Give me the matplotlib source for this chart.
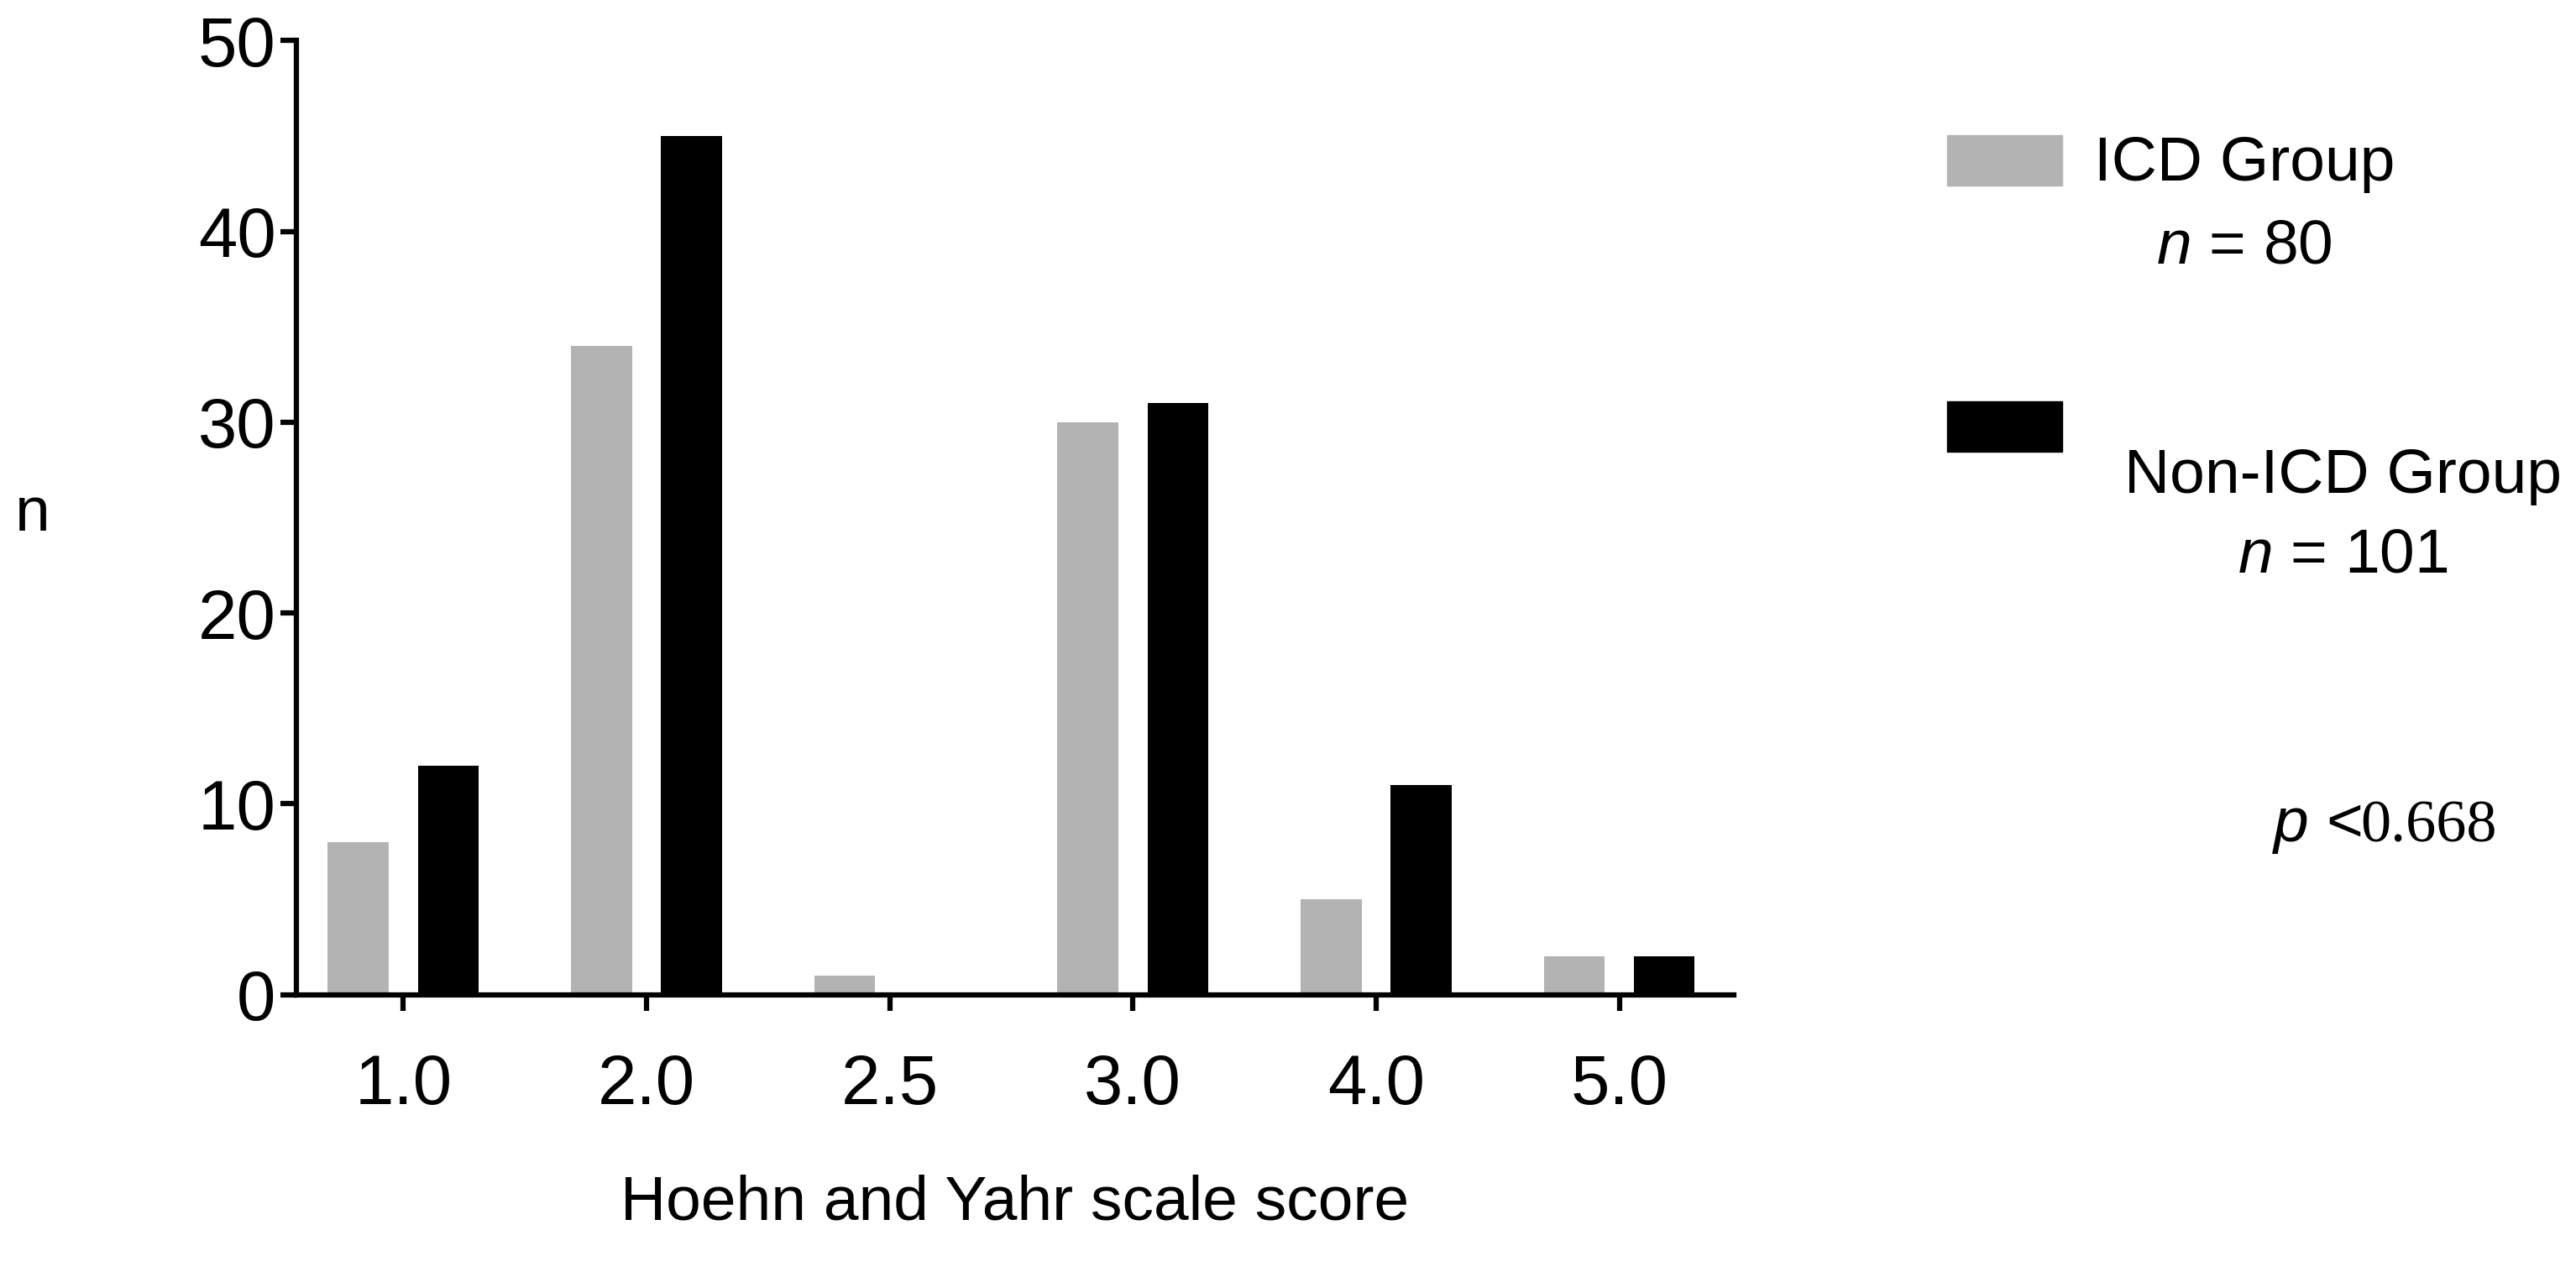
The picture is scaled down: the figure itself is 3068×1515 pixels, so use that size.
import matplotlib
matplotlib.use("Agg")
import matplotlib.pyplot as plt
from matplotlib.patches import Rectangle
import numpy as np

categories = ["1.0", "2.0", "2.5", "3.0", "4.0", "5.0"]
icd = [8, 34, 1, 30, 5, 2]
non_icd = [12, 45, 0, 31, 11, 2]

plt.rcParams['font.family'] = ['Liberation Sans', 'DejaVu Sans']
plt.rcParams['mathtext.fontset'] = 'custom'
plt.rcParams['mathtext.it'] = 'Liberation Sans:italic'
fig = plt.figure(figsize=(30.68, 15.15), dpi=100)
ax = fig.add_axes([0.115, 0.218, 0.558, 0.75])
x = np.arange(len(categories))
ax.bar(x - 0.185, icd, width=0.25, color="#b3b3b3")
ax.bar(x + 0.185, non_icd, width=0.25, color="black")
ax.set_xlim(-0.44, 5.47)
ax.set_ylim(0, 50)
ax.set_yticks([0, 10, 20, 30, 40, 50])
ax.set_xticks(x)
ax.set_xticklabels(categories)
for s in ["top", "right"]:
    ax.spines[s].set_visible(False)
for s in ["left", "bottom"]:
    ax.spines[s].set_linewidth(4.5)
ax.tick_params(axis="both", width=4.5, length=14, labelsize=60, direction="out")
ax.tick_params(axis="x", pad=36)
ax.set_xlabel("Hoehn and Yahr scale score", fontsize=54, labelpad=48)

W, H = 1568, 774
def fx(v): return v / W
def fy(v): return 1 - v / H
fig.text(fx(20), fy(313), "n", fontsize=54, ha="center", va="center")
fig.patches.append(Rectangle((fx(1185), fy(113)), fx(70), 31 / H, color="#b3b3b3", transform=fig.transFigure))
fig.patches.append(Rectangle((fx(1185), fy(275)), fx(70), 31 / H, color="black", transform=fig.transFigure))
fig.text(fx(1366), fy(100), "ICD Group", fontsize=54, ha="center", va="center")
fig.text(fx(1366), fy(150), "$n$ = 80", fontsize=54, ha="center", va="center")
fig.text(fx(1426), fy(290), "Non-ICD Group", fontsize=54, ha="center", va="center")
fig.text(fx(1426), fy(338), "$n$ = 101", fontsize=54, ha="center", va="center")
fig.text(fx(1383), fy(503), "$p$ <", fontsize=54, ha="left", va="center")
fig.text(fx(1437), fy(503), "0.668", fontsize=52, ha="left", va="center", family="Liberation Serif")
fig.savefig("out.png", dpi=100)
